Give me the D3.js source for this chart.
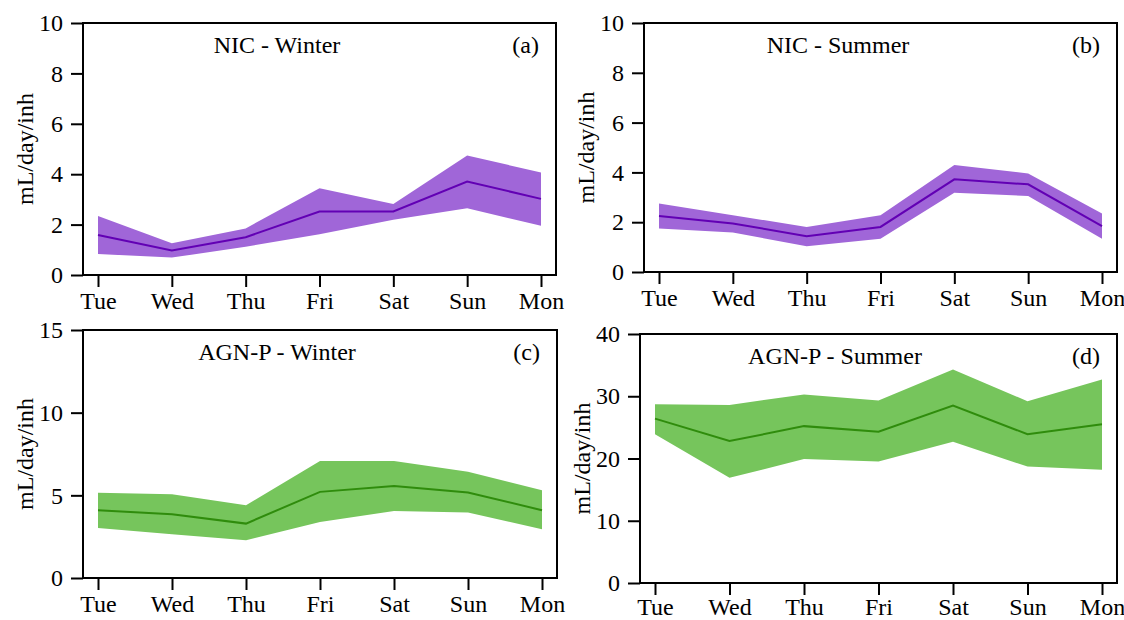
<!DOCTYPE html>
<html>
<head>
<meta charset="utf-8">
<script src="https://cdn.jsdelivr.net/npm/d3@7"></script>
<style>
  body { margin: 0; background: #fff; }
  svg text { font-family: "Liberation Serif", "Times New Roman", Times, "DejaVu Serif", serif; }
</style>
</head>
<body>
<svg id="SVG_CONTAINER" width="1124" height="620"></svg>
<script>
let days = ["Tue", "Wed", "Thu", "Fri", "Sat", "Sun", "Mon"];

// NIC - Winter
let nicWinterMean = [1.59, 0.97, 1.50, 2.52, 2.52, 3.71, 3.02];
let nicWinterLow  = [0.83, 0.69, 1.12, 1.62, 2.19, 2.65, 1.95];
let nicWinterHigh = [2.34, 1.26, 1.85, 3.44, 2.82, 4.74, 4.07];

// NIC - Summer
let nicSummerMean = [2.25, 1.95, 1.44, 1.81, 3.72, 3.52, 1.84];
let nicSummerLow  = [1.75, 1.59, 1.03, 1.34, 3.18, 3.05, 1.34];
let nicSummerHigh = [2.75, 2.28, 1.81, 2.28, 4.30, 3.96, 2.35];

// AGN-P - Winter
let agnWinterMean = [4.10, 3.86, 3.29, 5.21, 5.57, 5.17, 4.10];
let agnWinterLow  = [3.03, 2.64, 2.28, 3.39, 4.06, 3.96, 2.95];
let agnWinterHigh = [5.15, 5.07, 4.40, 7.07, 7.07, 6.42, 5.31];

// AGN-P - Summer
let agnSummerMean = [26.4, 22.8, 25.2, 24.3, 28.5, 23.9, 25.5];
let agnSummerLow  = [23.9, 16.9, 19.9, 19.5, 22.7, 18.7, 18.2];
let agnSummerHigh = [28.7, 28.6, 30.3, 29.3, 34.3, 29.2, 32.7];

let ticks10 = [0, 2, 4, 6, 8, 10];
let ticks15 = [0, 5, 10, 15];
let ticks40 = [0, 10, 20, 30, 40];

const PURPLE = { fill: "#a066d8", line: "#6200b4" };
const GREEN  = { fill: "#76c55c", line: "#2f8c0c" };

let panels = [
  { title: "NIC - Winter", tag: "(a)", mean: nicWinterMean, low: nicWinterLow, high: nicWinterHigh,
    ticks: ticks10, color: PURPLE, box: { left: 83, right: 556, top: 23, bottom: 275 }, titleX: 277, xPad: 5 },
  { title: "NIC - Summer", tag: "(b)", mean: nicSummerMean, low: nicSummerLow, high: nicSummerHigh,
    ticks: ticks10, color: PURPLE, box: { left: 644, right: 1117, top: 23, bottom: 272 }, titleX: 838, xPad: 5 },
  { title: "AGN-P - Winter", tag: "(c)", mean: agnWinterMean, low: agnWinterLow, high: agnWinterHigh,
    ticks: ticks15, color: GREEN, box: { left: 83, right: 557, top: 330, bottom: 578 }, titleX: 277, xPad: 5 },
  { title: "AGN-P - Summer", tag: "(d)", mean: agnSummerMean, low: agnSummerLow, high: agnSummerHigh,
    ticks: ticks40, color: GREEN, box: { left: 640, right: 1117, top: 334, bottom: 583 }, titleX: 835, xPad: 3 }
];

const PAD = 15;
const FONT = 24;
const SERIF = '"Liberation Serif", "Times New Roman", Times, "DejaVu Serif", serif';

let svg = d3.select("#SVG_CONTAINER");

panels.forEach(function (p) {
  let b = p.box;
  let g = svg.append("g");

  let xScale = d3.scalePoint()
    .domain(days)
    .range([b.left + PAD, b.right - PAD]);

  let yScale = d3.scaleLinear()
    .domain([0, d3.max(p.ticks)])
    .range([b.bottom, b.top]);

  let rows = days.map((d, i) => ({ day: d, mean: p.mean[i], low: p.low[i], high: p.high[i] }));

  // shaded band
  let area = d3.area()
    .x(d => xScale(d.day))
    .y0(d => yScale(d.low))
    .y1(d => yScale(d.high));

  g.append("path")
    .datum(rows)
    .attr("d", area)
    .attr("fill", p.color.fill);

  // mean line
  let line = d3.line()
    .x(d => xScale(d.day))
    .y(d => yScale(d.mean));

  g.append("path")
    .datum(rows)
    .attr("d", line)
    .attr("fill", "none")
    .attr("stroke", p.color.line)
    .attr("stroke-width", 2);

  // frame
  g.append("rect")
    .attr("x", b.left)
    .attr("y", b.top)
    .attr("width", b.right - b.left)
    .attr("height", b.bottom - b.top)
    .attr("fill", "none")
    .attr("stroke", "#000")
    .attr("stroke-width", 2);

  let yAxis = d3.axisLeft(yScale)
    .tickValues(p.ticks)
    .tickFormat(d3.format("d"))
    .tickSize(12)
    .tickPadding(8);

  let ya = g.append("g")
    .attr("transform", "translate(" + b.left + ",0)")
    .call(yAxis);

  let xAxis = d3.axisBottom(xScale)
    .tickSize(12)
    .tickPadding(p.xPad);

  let xa = g.append("g")
    .attr("transform", "translate(0," + b.bottom + ")")
    .call(xAxis);

  [ya, xa].forEach(function (a) {
    a.attr("font-family", SERIF).attr("font-size", FONT);
    a.select(".domain").remove();
    a.selectAll(".tick line").attr("stroke", "#000").attr("stroke-width", 2);
    a.selectAll(".tick text").attr("fill", "#000");
  });

  // y axis label
  g.append("text")
    .attr("transform", "translate(" + (b.left - 50) + "," + ((b.top + b.bottom) / 2) + ") rotate(-90)")
    .attr("text-anchor", "middle")
    .attr("font-family", SERIF)
    .attr("font-size", FONT)
    .text("mL/day/inh");

  // title and panel tag
  g.append("text")
    .attr("x", p.titleX)
    .attr("y", b.top + 30)
    .attr("text-anchor", "middle")
    .attr("font-family", SERIF)
    .attr("font-size", FONT)
    .text(p.title);

  g.append("text")
    .attr("x", b.right - 17)
    .attr("y", b.top + 30)
    .attr("text-anchor", "end")
    .attr("font-family", SERIF)
    .attr("font-size", FONT)
    .text(p.tag);
});
</script>
</body>
</html>
